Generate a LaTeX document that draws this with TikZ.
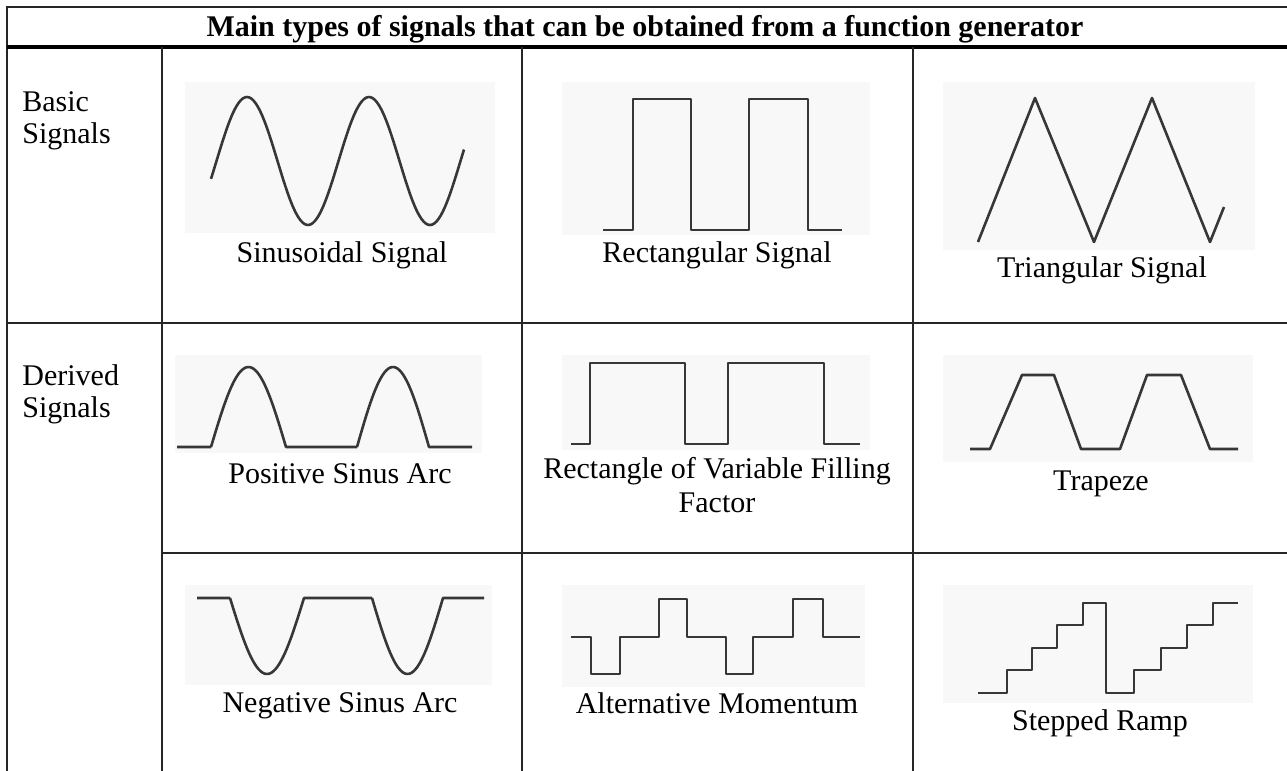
\documentclass[tikz,border=0pt]{standalone}
\usepackage{fontspec}
\setmainfont{Liberation Serif}
\usepackage{xcolor}
\usepackage{tikz}
\usetikzlibrary{positioning}
\definecolor{wavegray}{RGB}{55,55,55}
\definecolor{plotbg}{RGB}{248,248,248}
\tikzstyle{wave} = [line width=1.3pt, draw=wavegray, line join=round]
\tikzstyle{plotarea} = [fill=plotbg, draw=none]
\tikzstyle{rule} = [line width=1pt, draw=black!85]
\tikzstyle{caption} = [font=\fontsize{15}{16}\selectfont, inner sep=0pt, anchor=base]

\begin{document}
\begin{tikzpicture}[x=0.5pt, y=-0.5pt, label/.style={font=\fontsize{15}{16}\selectfont, inner sep=0pt, align=left, anchor=north west}, twoline/.style={font=\fontsize{15}{17}\selectfont, inner sep=0pt, align=center, anchor=north}]
    \useasboundingbox (0,0) rectangle (1287,771);
    % table
    \draw[rule] (7,7) rectangle (1292,776);
    \draw[line width=2pt] (7,47) -- (1292,47);
    \draw[rule] (7,323) -- (1292,323);
    \draw[rule] (162,553) -- (1292,553);
    \foreach \cx in {162,522,913} \draw[rule] (\cx,47) -- (\cx,776);
    \node[caption, font=\bfseries\fontsize{15}{16}\selectfont] (title) at (645,36) {Main types of signals that can be obtained from a function generator};
    \node[label] (basic) at (22,91) {Basic\\Signals};
    \node[label] (derived) at (22,364) {Derived\\Signals};
    % plot areas
    \fill[plotarea] (185,82) rectangle (495,233);
    \fill[plotarea] (562,82) rectangle (870,235);
    \fill[plotarea] (943,82) rectangle (1255,250);
    \fill[plotarea] (175,355) rectangle (482,453);
    \fill[plotarea] (562,355) rectangle (870,450);
    \fill[plotarea] (943,355) rectangle (1253,462);
    \fill[plotarea] (185,585) rectangle (492,685);
    \fill[plotarea] (562,585) rectangle (865,687);
    \fill[plotarea] (943,585) rectangle (1253,703);
    % basic signals
    \draw[wave] plot[domain=211:464, samples=120, smooth] (\x, {161-64*cos(2.9508*(\x-247))});
    \draw[wave] (603,230) -- (633,230) -- (633,99) -- (691,99) -- (691,230) -- (749,230) -- (749,99) -- (808,99) -- (808,230) -- (842,230);
    \draw[wave] (978,242) -- (1035,98) -- (1094,242) -- (1152,98) -- (1210,242) -- (1224,207);
    \node[caption] (sinlbl) at (342,262) {Sinusoidal Signal};
    \node[caption] (rectlbl) at (717,262) {Rectangular Signal};
    \node[caption] (trilbl) at (1102,277) {Triangular Signal};
    % derived signals
    \draw[wave] (177,447) -- (211,447) plot[domain=211:286, samples=40] (\x, {447-80*sin(2.4*(\x-211))}) -- (357,447) plot[domain=357:429, samples=40] (\x, {447-80*sin(2.5*(\x-357))}) -- (472,447);
    \draw[wave] (571,444) -- (590,444) -- (590,363) -- (685,363) -- (685,444) -- (728,444) -- (728,363) -- (824,363) -- (824,444) -- (860,444);
    \draw[wave] (970,449) -- (990,449) -- (1022,375) -- (1054,375) -- (1081,449) -- (1120,449) -- (1147,375) -- (1181,375) -- (1210,449) -- (1238,449);
    \node[caption] (poslbl) at (340,483) {Positive Sinus Arc};
    \node[twoline] (dutylbl) at (717,457) {Rectangle of Variable Filling\\Factor};
    \node[caption] (traplbl) at (1101,490) {Trapeze};
    \draw[wave] (197,598) -- (230,598) plot[domain=230:304, samples=40] (\x, {598+76*sin(2.4324*(\x-230))}) -- (372,598) plot[domain=372:443, samples=40] (\x, {598+76*sin(2.5352*(\x-372))}) -- (484,598);
    \draw[wave] (571,637) -- (591,637) -- (591,674) -- (620,674) -- (620,637) -- (659,637) -- (659,599) -- (687,599) -- (687,637) -- (726,637) -- (726,674) -- (753,674) -- (753,637) -- (793,637) -- (793,599) -- (823,599) -- (823,637) -- (860,637);
    \draw[wave] (978,693) -- (1007,693) |- (1032,670) |- (1057,648) |- (1083,625) |- (1106,603) -- (1106,693) -- (1134,693) |- (1161,670) |- (1187,648) |- (1213,625) |- (1238,603);
    \node[caption] (neglbl) at (340,712) {Negative Sinus Arc};
    \node[caption] (altlbl) at (717,713) {Alternative Momentum};
    \node[caption] (ramplbl) at (1100,730) {Stepped Ramp};
\end{tikzpicture}
\end{document}
